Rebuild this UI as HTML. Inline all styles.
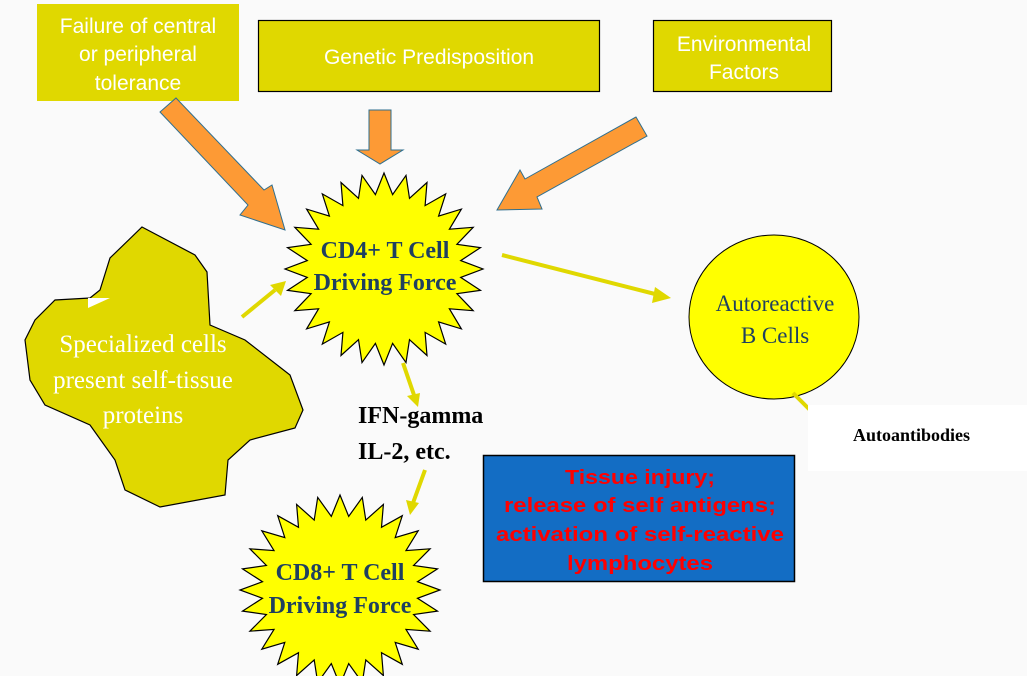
<!DOCTYPE html>
<html><head><meta charset="utf-8"><style>
html,body{margin:0;padding:0;background:#fafafa;}
svg{display:block;}
</style></head><body>
<svg id="s" width="1027" height="676" viewBox="0 0 1027 676" xmlns="http://www.w3.org/2000/svg">
<rect width="1027" height="676" fill="#fafafa"/>
<!-- top boxes -->
<rect x="37" y="4" width="202" height="97" fill="#e0d800"/>
<g font-family="Liberation Sans, sans-serif" font-size="21" fill="#fff" text-anchor="middle">
<text x="138" y="33">Failure of central</text>
<text x="138" y="61">or peripheral</text>
<text x="138" y="90">tolerance</text>
</g>
<rect x="258.5" y="20.5" width="341" height="71" fill="#e0d800" stroke="#000" stroke-width="1.2"/>
<text x="429" y="64" font-family="Liberation Sans, sans-serif" font-size="21" fill="#fff" text-anchor="middle">Genetic Predisposition</text>
<rect x="653.5" y="20.5" width="178" height="71" fill="#e0d800" stroke="#000" stroke-width="1.2"/>
<g font-family="Liberation Sans, sans-serif" font-size="21" fill="#fff" text-anchor="middle">
<text x="744" y="51">Environmental</text>
<text x="744" y="79">Factors</text>
</g>
<!-- orange arrows -->
<g fill="#fd9a35" stroke="#2f6f8f" stroke-width="1">
<polygon points="160,112 176,98 264,190 272,185 285,230 240,215 248,205"/>
<polygon points="369,110 391,110 391,150 403,150 380,164 357,150 369,150"/>
<polygon points="636,117 647,136 537,197 542,209 497,210 520,170 525,179"/>
</g>
<!-- blob -->
<polygon fill="#e0d800" stroke="#000" stroke-width="1.2" points="142,227 195,255 207,272 210,325 245,340 290,375 303,410 295,428 250,440 228,460 225,495 160,507 125,490 115,460 90,425 45,405 30,380 25,340 35,320 55,300 90,298 100,290 110,258"/>
<polygon fill="#fff" points="88,298 110,298 88,308"/>
<g font-family="Liberation Serif, serif" font-size="25" fill="#fff" text-anchor="middle">
<text x="143" y="352">Specialized cells</text>
<text x="143" y="388">present self-tissue</text>
<text x="143" y="423">proteins</text>
</g>
<!-- stars -->
<polygon id="st1" fill="#ffff00" stroke="#000" stroke-width="1.2"/>
<polygon id="st2" fill="#ffff00" stroke="#000" stroke-width="1.2"/>
<g font-family="Liberation Serif, serif" font-size="24" font-weight="bold" fill="#1f4060" text-anchor="middle">
<text x="385" y="258">CD4+ T Cell</text>
<text x="385" y="290">Driving Force</text>
<text x="340" y="580">CD8+ T Cell</text>
<text x="340" y="613">Driving Force</text>
</g>
<!-- circle -->
<ellipse cx="774" cy="317" rx="85" ry="82" fill="#ffff00" stroke="#000" stroke-width="1"/>
<g font-family="Liberation Serif, serif" font-size="23" fill="#1f4060" text-anchor="middle">
<text x="775" y="311">Autoreactive</text>
<text x="775" y="343">B Cells</text>
</g>
<!-- yellow arrows -->
<g stroke="#e0d800" stroke-width="4" fill="none">
<line x1="502" y1="255" x2="655" y2="294"/>
<line x1="242" y1="317" x2="275" y2="290"/>
<line x1="403" y1="363" x2="414" y2="395"/>
<line x1="425" y1="470" x2="413" y2="503"/>
<line x1="793" y1="393" x2="843" y2="443"/>
</g>
<g fill="#e0d800">
<polygon points="671,298 652,303 655,287"/>
<polygon points="286,281 281,296 270,285"/>
<polygon points="418,407 407,396 420,393"/>
<polygon points="410,515 406,500 419,503"/>
<polygon points="853,454 837,447 847,437"/>
</g>
<!-- labels -->
<g font-family="Liberation Serif, serif" font-size="24" font-weight="bold" fill="#000">
<text x="358" y="423">IFN-gamma</text>
<text x="358" y="459">IL-2, etc.</text>
</g>
<rect x="808" y="405" width="219" height="66" fill="#fff"/>
<text x="853" y="441" font-family="Liberation Serif, serif" font-size="18" font-weight="bold" fill="#000">Autoantibodies</text>
<rect x="483.5" y="455.5" width="311" height="126" fill="#136dc4" stroke="#000" stroke-width="1.5"/>
<g font-family="Liberation Sans, sans-serif" font-size="20" font-weight="bold" fill="#f00" text-anchor="middle">
<text x="640" y="484" textLength="150" lengthAdjust="spacingAndGlyphs">Tissue injury;</text>
<text x="640" y="512" textLength="272" lengthAdjust="spacingAndGlyphs">release of self antigens;</text>
<text x="640" y="541" textLength="288" lengthAdjust="spacingAndGlyphs">activation of self-reactive</text>
<text x="640" y="570" textLength="146" lengthAdjust="spacingAndGlyphs">lymphocytes</text>
</g>
</svg>
<script>
function star(id,cx,cy,rx,ry,k,n){var p=[];for(var i=0;i<2*n;i++){var a=-Math.PI/2+i*Math.PI/n;var f=i%2?k:1;p.push((cx+rx*f*Math.cos(a)).toFixed(1)+','+(cy+ry*f*Math.sin(a)).toFixed(1));}document.getElementById(id).setAttribute('points',p.join(' '));}
star('st1',384,269,99,96,0.78,28);
star('st2',340,590,100,95,0.78,28);
</script>
</body></html>
